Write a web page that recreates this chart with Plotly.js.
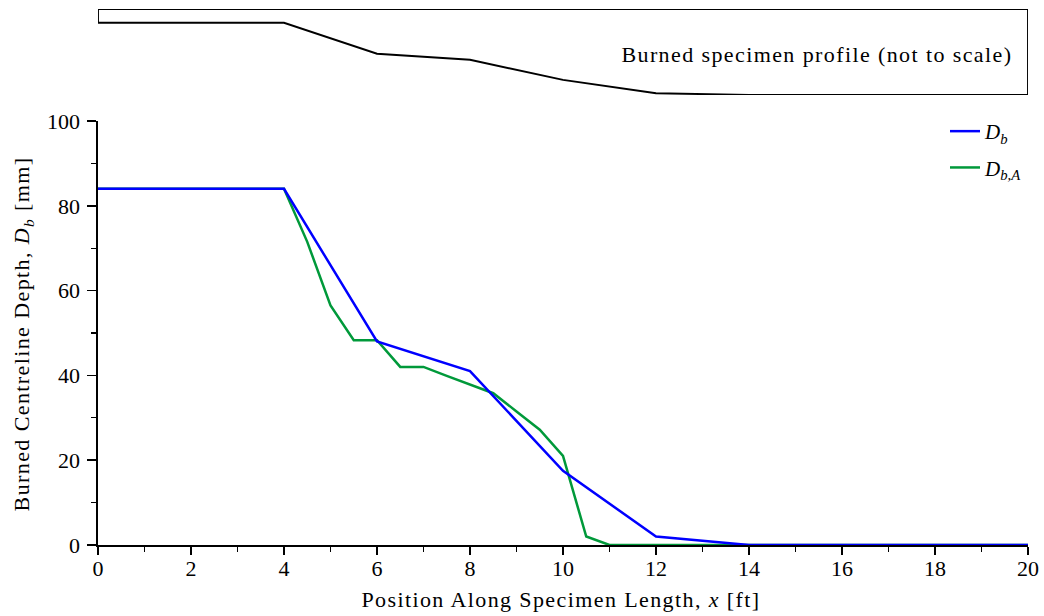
<!DOCTYPE html>
<html>
<head>
<meta charset="utf-8">
<script src="https://cdn.plot.ly/plotly-3.0.1.min.js"></script>
<style>
html,body{margin:0;padding:0;background:#fff;}
#chart{width:1044px;height:616px;}
#chart .annotation-text{letter-spacing:1.4px;}
</style>
</head>
<body>
<div id="chart"></div>
<script>
// Data
var xPos = [0, 4, 6, 8, 10, 12, 14, 20];                 // ft
var Db   = [84, 84, 48, 41, 17.5, 2, 0, 0];              // mm
var xA   = [0, 4, 4.5, 5, 5.5, 6, 6.5, 7, 7.5, 8, 8.5, 9, 9.5, 10, 10.5, 11, 20];
var DbA  = [84, 84, 71.5, 56.5, 48.3, 48.3, 42, 42, 39.9, 37.8, 35.8, 31.5, 27.2, 21, 2, 0, 0];
var profileTop = 100;   // top edge of the schematic specimen
var xTickVals = [0, 2, 4, 6, 8, 10, 12, 14, 16, 18, 20];
var yTickVals = [0, 20, 40, 60, 80, 100];

var FONT = 'Liberation Serif, Times New Roman, serif';

// Build the closed profile polygon from the Db series
var profX = [xPos[0]].concat(xPos, [xPos[xPos.length - 1], xPos[0]]);
var profY = [profileTop].concat(Db, [profileTop, profileTop]);

var traces = [
  {x: profX, y: profY, xaxis: 'x', yaxis: 'y2', mode: 'lines', showlegend: false,
   line: {color: '#000000', width: 1.9}, cliponaxis: false, hoverinfo: 'skip'},
  {x: xA, y: DbA, mode: 'lines', name: '<i>D<sub>b,A</sub></i>', legendgroup: 'b', legendrank: 2,
   line: {color: '#00993a', width: 2.5}, cliponaxis: false},
  {x: xPos, y: Db, mode: 'lines', name: '<i>D<sub>b</sub></i>', legendgroup: 'a', legendrank: 1,
   line: {color: '#0000ff', width: 2.5}, cliponaxis: false}
];

var layout = {
  width: 1044, height: 616,
  margin: {l: 98, r: 16, t: 9, b: 71},
  paper_bgcolor: '#ffffff', plot_bgcolor: 'rgba(0,0,0,0)',
  font: {family: FONT, size: 22, color: '#000000'},
  showlegend: true,
  legend: {x: 1, xanchor: 'right', y: 0.8097, yanchor: 'top', bgcolor: 'rgba(0,0,0,0)',
           borderwidth: 0, font: {family: FONT, size: 21}, tracegroupgap: 6,
           traceorder: 'grouped'},
  xaxis: {range: [0, 20], domain: [0, 1], anchor: 'y', tickvals: xTickVals,
          ticks: 'outside', ticklen: 8, tickwidth: 1.6, tickcolor: '#000',
          ticklabelstandoff: -5,
          showline: true, linecolor: '#000', linewidth: 1.6, showgrid: false, zeroline: false,
          minor: {dtick: 1, ticks: 'outside', ticklen: 5, tickwidth: 1.3, tickcolor: '#000', showgrid: false},
          tickfont: {family: FONT, size: 22}, fixedrange: true},
  yaxis: {range: [0, 100], domain: [0, 0.791], tickvals: yTickVals,
          ticks: 'outside', ticklen: 9, tickwidth: 1.6, tickcolor: '#000',
          ticklabelstandoff: 3,
          showline: true, linecolor: '#000', linewidth: 1.6, showgrid: false, zeroline: false,
          minor: {dtick: 10, ticks: 'outside', ticklen: 5, tickwidth: 1.3, tickcolor: '#000', showgrid: false},
          tickfont: {family: FONT, size: 22}, fixedrange: true},
  yaxis2: {range: [0, 100], domain: [0.8396, 1], visible: false, fixedrange: true},
  annotations: [
    {text: 'Burned specimen profile (not to scale)', xref: 'paper', yref: 'paper',
     x: (988 - 98) / 930, y: (545 - 55) / 536, xanchor: 'right', yanchor: 'middle', showarrow: false,
     font: {family: FONT, size: 22}},
    {text: 'Position Along Specimen Length, <i>x</i> [ft]', xref: 'paper', yref: 'paper',
     x: (561 - 98) / 930, y: (545 - 599) / 536, xanchor: 'center', yanchor: 'middle', showarrow: false,
     font: {family: FONT, size: 22}},
    {text: 'Burned Centreline Depth, <i>D<sub>b</sub></i> [mm]', xref: 'paper', yref: 'paper',
     x: (23 - 98) / 930, y: (545 - 334) / 536, xanchor: 'center', yanchor: 'middle', showarrow: false,
     textangle: -90, font: {family: FONT, size: 22}}
  ]
};

Plotly.newPlot('chart', traces, layout, {displayModeBar: false, staticPlot: true});
</script>
</body>
</html>
